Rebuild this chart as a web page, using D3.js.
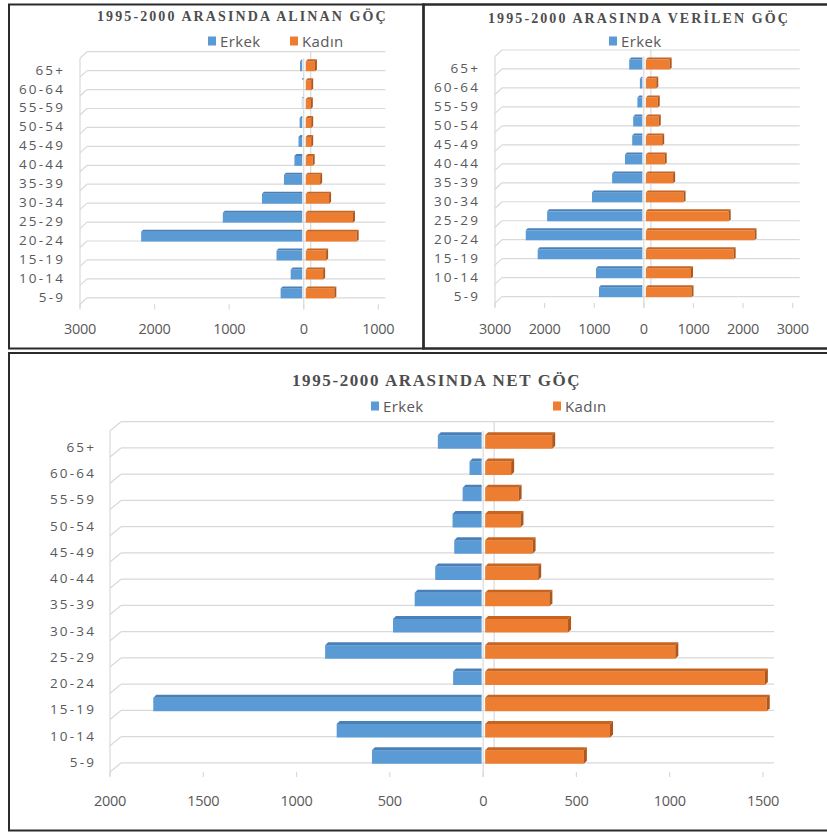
<!DOCTYPE html>
<html>
<head>
<meta charset="utf-8">
<script src="https://cdn.jsdelivr.net/npm/d3@7.9.0/dist/d3.min.js"></script>
<style>
  body { margin: 0; background: #fff; }
  svg { display: block; }
</style>
</head>
<body>
<svg id="chart" width="827" height="832"></svg>
<script>
// age groups, top to bottom
const ageGroups = ['65+', '60-64', '55-59', '50-54', '45-49', '40-44', '35-39',
  '30-34', '25-29', '20-24', '15-19', '10-14', '5-9'];

// 1995-2000 alinan goc (received)
const alinanErkek = [50, 20, 25, 55, 70, 125, 265, 560, 1085, 2180, 365, 175, 310];
const alinanKadin = [150, 100, 95, 100, 100, 120, 220, 340, 660, 710, 300, 260, 410];

// 1995-2000 verilen goc (given)
const verilenErkek = [295, 80, 130, 215, 235, 380, 640, 1045, 1950, 2380, 2140, 965, 905];
const verilenKadin = [520, 250, 280, 300, 370, 420, 590, 800, 1710, 2230, 1810, 950, 960];

// 1995-2000 net goc
const netErkek = [243, 73, 110, 164, 155, 257, 367, 483, 847, 161, 1768, 785, 596];
const netKadin = [370, 150, 190, 200, 265, 295, 355, 455, 1030, 1510, 1520, 680, 540];

const alinanTicks = [-3000, -2000, -1000, 0, 1000];
const verilenTicks = [-3000, -2000, -1000, 0, 1000, 2000, 3000];
const netTicks = [-2000, -1500, -1000, -500, 0, 500, 1000, 1500];

const blue = { front: '#5b9bd5', top: '#4a80b9' };
const orange = { front: '#ed7d31', top: '#c8641f', side: '#b0561a' };
const gridColor = '#d9d9d9';
const textColor = '#595959';

const svg = d3.select('#chart');

// panel frames
svg.append('rect').attr('x', 9).attr('y', 4.5).attr('width', 414.5).attr('height', 344)
  .attr('fill', 'none').attr('stroke', '#2b2b2b').attr('stroke-width', 2);
svg.append('rect').attr('x', 423.5).attr('y', 4.5).attr('width', 410).attr('height', 344)
  .attr('fill', 'none').attr('stroke', '#2b2b2b').attr('stroke-width', 2.5);
svg.append('rect').attr('x', 9).attr('y', 353).attr('width', 824).attr('height', 477.5)
  .attr('fill', 'none').attr('stroke', '#2b2b2b').attr('stroke-width', 2);

function drawPanel(p) {
  const g = svg.append('g');
  const x = d3.scaleLinear().domain(p.domain).range(p.range);
  const y = d3.scaleBand()
    .domain(ageGroups)
    .range([p.gridTop, p.gridTop + p.step * ageGroups.length]);
  const gridBottom = p.gridTop + p.step * ageGroups.length;
  const lineYs = d3.range(ageGroups.length + 1).map((i) => p.gridTop + i * p.step);

  // back wall gridlines + side wall diagonals
  g.selectAll('.grid').data(lineYs).join('line')
    .attr('x1', p.range[0] + p.dx).attr('x2', p.range[1] + p.dx)
    .attr('y1', (d) => d).attr('y2', (d) => d)
    .attr('stroke', gridColor).attr('stroke-width', 1.2);
  g.selectAll('.diag').data(lineYs).join('line')
    .attr('x1', p.range[0] + p.dx).attr('x2', p.range[0])
    .attr('y1', (d) => d).attr('y2', (d) => d + p.dy)
    .attr('stroke', gridColor).attr('stroke-width', 1.2);
  g.append('line')
    .attr('x1', p.range[0]).attr('x2', p.range[0])
    .attr('y1', p.gridTop + p.dy).attr('y2', gridBottom + p.dy + 4)
    .attr('stroke', gridColor).attr('stroke-width', 1.2);

  // zero lines (back and front)
  g.append('line')
    .attr('x1', x(0) + p.dx).attr('x2', x(0) + p.dx)
    .attr('y1', p.gridTop).attr('y2', gridBottom)
    .attr('stroke', gridColor).attr('stroke-width', 1.2);
  g.append('line')
    .attr('x1', x(0)).attr('x2', x(0))
    .attr('y1', p.gridTop + p.dy).attr('y2', gridBottom + p.dy + 5)
    .attr('stroke', gridColor).attr('stroke-width', 1.2);

  // tick stubs on the floor edge
  g.selectAll('.stub').data(p.ticks).join('line')
    .attr('x1', (d) => x(d)).attr('x2', (d) => x(d))
    .attr('y1', gridBottom + p.dy).attr('y2', gridBottom + p.dy + 5)
    .attr('stroke', gridColor).attr('stroke-width', 1.2);

  // bars with a small 3d top / side face
  const d = p.depth;
  const barTop = (cat) => y(cat) + p.step * 0.4;
  const barBottom = (cat) => y(cat) + p.step * 1.03;

  ageGroups.forEach((cat, i) => {
    const t = barTop(cat);
    const b = barBottom(cat);

    // erkek (left side)
    const a1 = x(-p.erkek[i]);
    const a2 = x(0) - 1.5;
    g.append('rect')
      .attr('x', a1).attr('y', t + d).attr('width', Math.max(0, a2 - a1)).attr('height', b - t - d)
      .attr('fill', blue.front);
    g.append('path')
      .attr('d', `M${a1},${t + d}L${a1 + d},${t}L${a2},${t}L${a2},${t + d}Z`)
      .attr('fill', blue.top);

    // kadin (right side)
    const k1 = x(0) + 2;
    const k2 = x(p.kadin[i]);
    g.append('rect')
      .attr('x', k1).attr('y', t + d).attr('width', Math.max(0, k2 - k1)).attr('height', b - t - d)
      .attr('fill', orange.front);
    g.append('path')
      .attr('d', `M${k1},${t + d}L${k1 + d},${t}L${k2 + d},${t}L${k2},${t + d}Z`)
      .attr('fill', orange.top);
    g.append('path')
      .attr('d', `M${k2},${t + d}L${k2 + d},${t}L${k2 + d},${b - d}L${k2},${b}Z`)
      .attr('fill', orange.side);
  });

  // category labels
  g.selectAll('.cat').data(ageGroups).join('text')
    .attr('x', p.labelX + 2.2)
    .attr('y', (c) => y(c) + p.step - 1)
    .attr('text-anchor', 'end')
    .attr('dominant-baseline', 'central')
    .attr('font-family', 'Open Sans, sans-serif')
    .attr('font-size', 13.5)
    .attr('letter-spacing', 2.2)
    .attr('fill', textColor)
    .text((c) => c);

  // value axis labels
  g.selectAll('.tick').data(p.ticks).join('text')
    .attr('x', (v) => x(v))
    .attr('y', p.tickY)
    .attr('text-anchor', 'middle')
    .attr('dominant-baseline', 'central')
    .attr('font-family', 'Open Sans, sans-serif')
    .attr('font-size', 14.5)
    .attr('letter-spacing', -0.3)
    .attr('fill', textColor)
    .text((v) => Math.abs(v));

  // title
  g.append('text')
    .attr('x', p.title.x).attr('y', p.title.y)
    .attr('dominant-baseline', 'central')
    .attr('font-family', 'Liberation Serif, serif')
    .attr('font-weight', 'bold')
    .attr('font-size', p.title.size)
    .attr('letter-spacing', p.title.spacing)
    .attr('fill', '#4d4d4d')
    .text(p.title.text);

  // legend
  p.legend.forEach((item) => {
    g.append('rect')
      .attr('x', item.x).attr('y', p.legendY - p.swatch / 2)
      .attr('width', p.swatch - 1).attr('height', p.swatch)
      .attr('fill', item.color);
    g.append('text')
      .attr('x', item.x + p.swatch + 3).attr('y', p.legendY)
      .attr('dominant-baseline', 'central')
      .attr('font-family', 'Open Sans, sans-serif')
      .attr('font-size', 15)
      .attr('letter-spacing', 0.4)
      .attr('fill', textColor)
      .text(item.label);
  });
}

drawPanel({
  erkek: alinanErkek, kadin: alinanKadin, ticks: alinanTicks,
  domain: [-3000, 1000], range: [80, 378.3],
  gridTop: 51.7, step: 18.93, dx: 7, dy: 6.5, depth: 2,
  labelX: 63, tickY: 328,
  title: { text: '1995-2000 ARASINDA ALINAN GÖÇ', x: 97, y: 16.5, size: 14, spacing: 2.1 },
  legendY: 41, swatch: 9,
  legend: [{ label: 'Erkek', x: 208, color: blue.front }, { label: 'Kadın', x: 290, color: orange.front }]
});

drawPanel({
  erkek: verilenErkek, kadin: verilenKadin, ticks: verilenTicks,
  domain: [-3000, 3000], range: [495, 792.7],
  gridTop: 50, step: 18.97, dx: 7, dy: 6.5, depth: 2,
  labelX: 478, tickY: 328,
  title: { text: '1995-2000 ARASINDA VERİLEN GÖÇ', x: 488, y: 18.5, size: 14, spacing: 2.1 },
  legendY: 41, swatch: 9,
  legend: [{ label: 'Erkek', x: 609, color: blue.front }]
});

drawPanel({
  erkek: netErkek, kadin: netKadin, ticks: netTicks,
  domain: [-2000, 1500], range: [110, 763],
  gridTop: 421.7, step: 26.25, dx: 11, dy: 9, depth: 3,
  labelX: 94, tickY: 800,
  title: { text: '1995-2000 ARASINDA NET GÖÇ', x: 292, y: 380, size: 17, spacing: 1.6 },
  legendY: 406, swatch: 9,
  legend: [{ label: 'Erkek', x: 371, color: blue.front }, { label: 'Kadın', x: 553, color: orange.front }]
});
</script>
</body>
</html>
